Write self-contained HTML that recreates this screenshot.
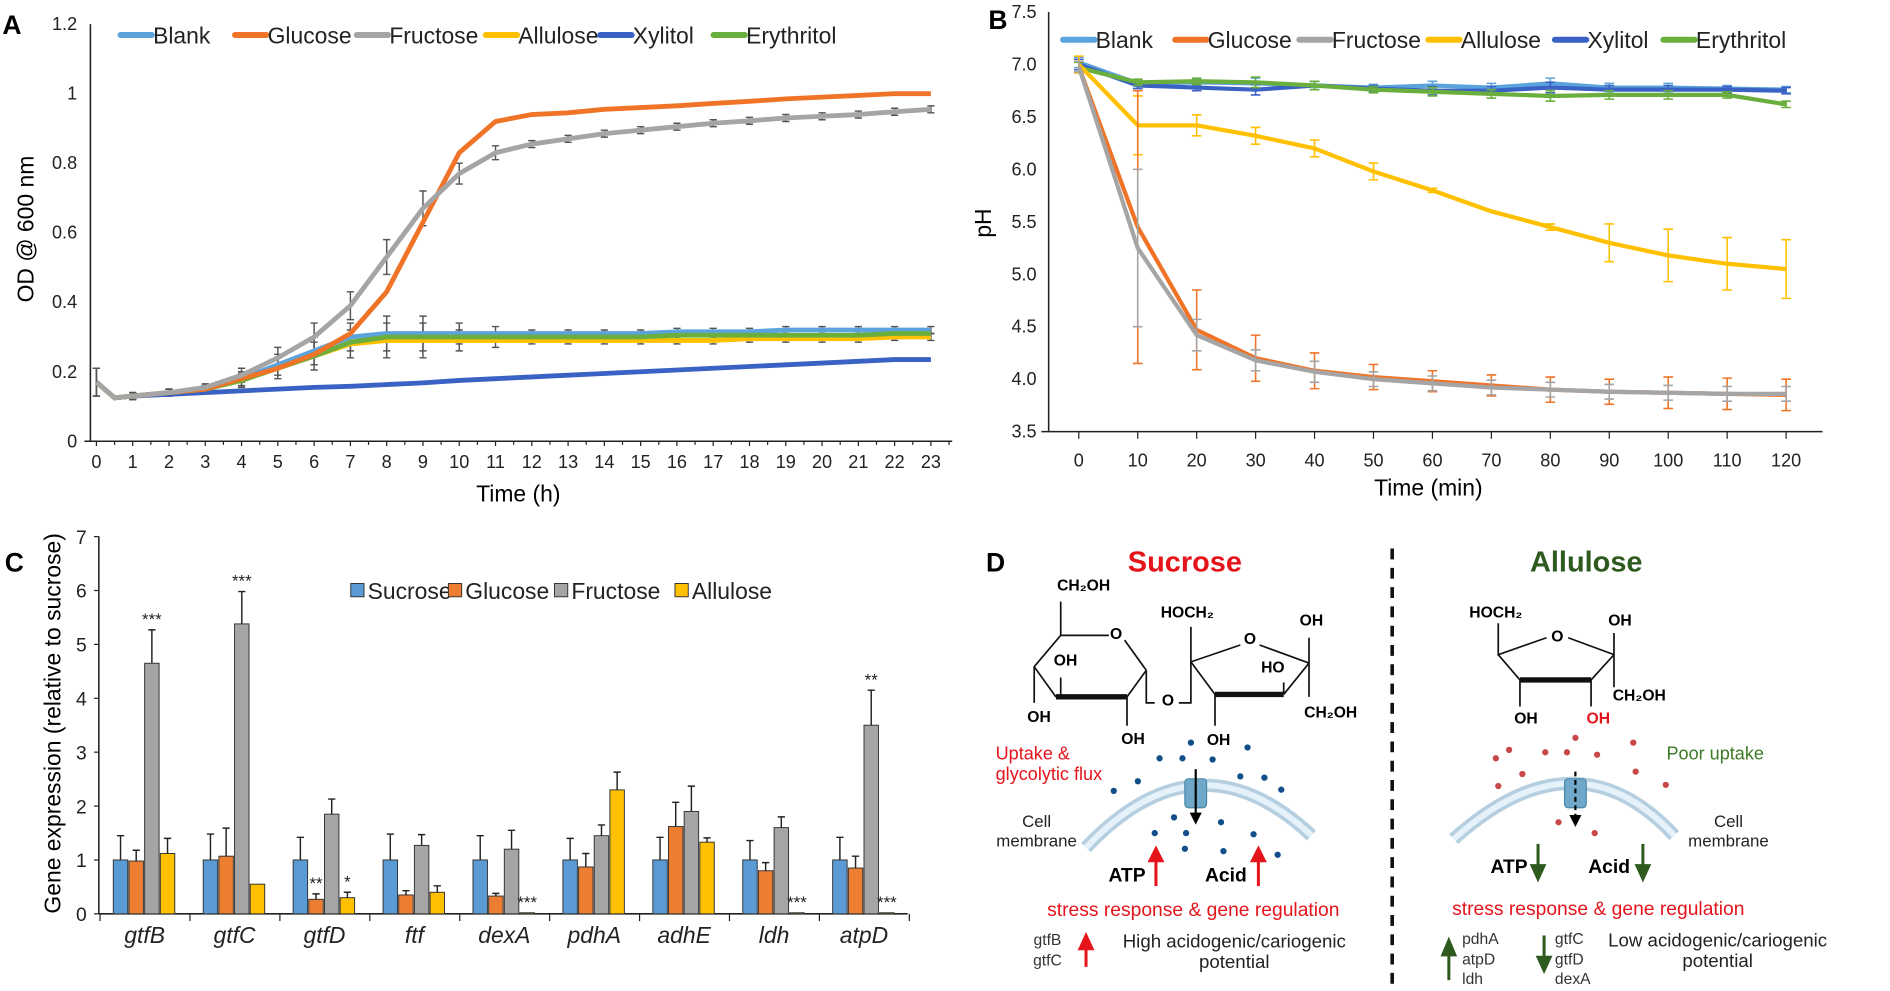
<!DOCTYPE html>
<html><head><meta charset="utf-8">
<style>
html,body{margin:0;padding:0;background:#fff;}
svg{display:block;font-family:"Liberation Sans",Arial,sans-serif;}
</style></head>
<body>
<svg id="fig" width="1890" height="991" viewBox="0 0 1568 822" preserveAspectRatio="none" xmlns="http://www.w3.org/2000/svg">
<g id="pa"></g>
<g id="pb"></g>
<g id="pc"></g>
<g id="pd">
  <text x="818" y="474" font-size="22" font-weight="bold">D</text>
  <line x1="1155" y1="455" x2="1155" y2="822" stroke="#111" stroke-width="3" stroke-dasharray="9,7"/>
  <text x="983" y="474" font-size="24" font-weight="bold" fill="#e5141b" text-anchor="middle">Sucrose</text>
  <text x="1316" y="474" font-size="24" font-weight="bold" fill="#2e5a1e" text-anchor="middle">Allulose</text>

  <g font-size="13" font-weight="bold" text-anchor="middle">
    <g fill="none" stroke="#111" stroke-width="1.4">
      <path d="M880 499 L880 527 L920 527 M933 531 L951 556 M880 527 L858 553 L876 578 M935 578 L951 556"/>
      <path d="M876 578 L935 578" stroke-width="4.5"/>
      <path d="M858 553 L858 583 M880 562 L880 578 M935 578 L935 602 M951 556 L951 583 L958 583 M978 583 L988 583 L988 549"/>
      <path d="M988 520 L988 549 L1029 535 M1045 535 L1086 550 M988 549 L1008 576 M1065 576 L1086 550 M1086 529 L1086 578 M1008 576 L1008 602 M1065 566 L1065 576"/>
      <path d="M1008 576 L1065 576" stroke-width="4.5"/>
    </g>
    <text x="899" y="490">CH₂OH</text><text x="926" y="530">O</text>
    <text x="884" y="552">OH</text><text x="862" y="599">OH</text><text x="940" y="617">OH</text>
    <text x="969" y="585">O</text>
    <text x="985" y="512">HOCH₂</text><text x="1037" y="534">O</text><text x="1056" y="558">HO</text>
    <text x="1088" y="519">OH</text><text x="1104" y="595">CH₂OH</text><text x="1011" y="618">OH</text>
  </g>
  <g font-size="13" font-weight="bold" text-anchor="middle">
    <g fill="none" stroke="#111" stroke-width="1.4">
      <path d="M1243 517 L1243 543 L1283 529 M1301 529 L1339 543 M1243 543 L1261 564 M1320 564 L1339 543 M1339 525 L1339 570 M1261 564 L1261 586 M1320 564 L1320 586"/>
      <path d="M1261 564 L1320 564" stroke-width="4.5"/>
    </g>
    <text x="1241" y="512">HOCH₂</text><text x="1292" y="532">O</text><text x="1344" y="519">OH</text>
    <text x="1360" y="581">CH₂OH</text><text x="1266" y="600">OH</text><text x="1326" y="600" fill="#e5141b">OH</text>
  </g>

  <text x="826" y="630" font-size="15" fill="#e5141b">Uptake &amp;</text>
  <text x="826" y="647" font-size="15" fill="#e5141b">glycolytic flux</text>
  <path d="M901 703 Q994 605 1088 693" fill="none" stroke="#b5cfe0" stroke-width="11"/>
  <path d="M901 703 Q994 605 1088 693" fill="none" stroke="#e6f2fa" stroke-width="5"/>
  <rect x="983" y="646" width="18" height="24" rx="3" fill="#6fa8c8" stroke="#4b87a8"/>
  <line x1="992" y1="638" x2="992" y2="676" stroke="#000" stroke-width="1.8"/><path d="M987 674 L997 674 L992 684Z" fill="#000"/>
  <g fill="#124f8a">
    <circle cx="988" cy="616" r="2.6"/><circle cx="962" cy="629" r="2.6"/><circle cx="981" cy="629" r="2.6"/><circle cx="1006" cy="630" r="2.6"/><circle cx="1035" cy="620" r="2.6"/><circle cx="944" cy="648" r="2.6"/><circle cx="924" cy="656" r="2.6"/><circle cx="1029" cy="644" r="2.6"/><circle cx="1049" cy="645" r="2.6"/><circle cx="1063" cy="655" r="2.6"/><circle cx="974" cy="678" r="2.6"/><circle cx="1013" cy="682" r="2.6"/><circle cx="958" cy="691" r="2.6"/><circle cx="984" cy="691" r="2.6"/><circle cx="1040" cy="692" r="2.6"/><circle cx="983" cy="704" r="2.6"/><circle cx="1015" cy="706" r="2.6"/><circle cx="1060" cy="709" r="2.6"/>
  </g>
  <text x="860" y="686" font-size="14" fill="#222" text-anchor="middle">Cell</text>
  <text x="860" y="702" font-size="14" fill="#222" text-anchor="middle">membrane</text>
  <text x="935" y="731" font-size="16" font-weight="bold" text-anchor="middle">ATP</text>
  <path d="M959 735 L959 712 M954 714 L959 704 L964 714Z" stroke="#e5141b" stroke-width="2.5" fill="#e5141b"/>
  <text x="1017" y="731" font-size="16" font-weight="bold" text-anchor="middle">Acid</text>
  <path d="M1044 735 L1044 712 M1039 714 L1044 704 L1049 714Z" stroke="#e5141b" stroke-width="2.5" fill="#e5141b"/>
  <text x="990" y="760" font-size="16" fill="#e5141b" text-anchor="middle">stress response &amp; gene regulation</text>
  <text x="869" y="784" font-size="13" fill="#333" text-anchor="middle">gtfB</text>
  <text x="869" y="801" font-size="13" fill="#333" text-anchor="middle">gtfC</text>
  <path d="M901 802 L901 786 M896 787 L901 776 L906 787Z" stroke="#e5141b" stroke-width="2.5" fill="#e5141b"/>
  <text x="1024" y="786" font-size="15.5" fill="#222" text-anchor="middle">High acidogenic/cariogenic</text>
  <text x="1024" y="803" font-size="15.5" fill="#222" text-anchor="middle">potential</text>

  <text x="1423" y="630" font-size="15" fill="#3d7a25" text-anchor="middle">Poor uptake</text>
  <path d="M1206 696 Q1307 605 1389 693" fill="none" stroke="#b5cfe0" stroke-width="11"/>
  <path d="M1206 696 Q1307 605 1389 693" fill="none" stroke="#e6f2fa" stroke-width="5"/>
  <rect x="1298" y="646" width="18" height="24" rx="3" fill="#6fa8c8" stroke="#4b87a8"/>
  <line x1="1307" y1="640" x2="1307" y2="676" stroke="#000" stroke-width="1.8" stroke-dasharray="4,3"/><path d="M1302 676 L1312 676 L1307 686Z" fill="#000"/>
  <g fill="#c8484a">
    <circle cx="1241" cy="629" r="2.6"/><circle cx="1252" cy="622" r="2.6"/><circle cx="1282" cy="624" r="2.6"/><circle cx="1300" cy="624" r="2.6"/><circle cx="1307" cy="612" r="2.6"/><circle cx="1325" cy="626" r="2.6"/><circle cx="1355" cy="616" r="2.6"/><circle cx="1263" cy="642" r="2.6"/><circle cx="1243" cy="652" r="2.6"/><circle cx="1357" cy="640" r="2.6"/><circle cx="1382" cy="651" r="2.6"/><circle cx="1293" cy="682" r="2.6"/><circle cx="1323" cy="691" r="2.6"/>
  </g>
  <text x="1434" y="686" font-size="14" fill="#222" text-anchor="middle">Cell</text>
  <text x="1434" y="702" font-size="14" fill="#222" text-anchor="middle">membrane</text>
  <text x="1252" y="724" font-size="16" font-weight="bold" text-anchor="middle">ATP</text>
  <path d="M1276 700 L1276 720 M1271 718 L1276 729 L1281 718Z" stroke="#2e5a1e" stroke-width="2.5" fill="#2e5a1e"/>
  <text x="1335" y="724" font-size="16" font-weight="bold" text-anchor="middle">Acid</text>
  <path d="M1363 700 L1363 720 M1358 718 L1363 729 L1368 718Z" stroke="#2e5a1e" stroke-width="2.5" fill="#2e5a1e"/>
  <text x="1326" y="759" font-size="16" fill="#e5141b" text-anchor="middle">stress response &amp; gene regulation</text>
  <path d="M1202 813 L1202 791 M1197 792 L1202 780 L1207 792Z" stroke="#2e5a1e" stroke-width="2.5" fill="#2e5a1e"/>
  <text x="1213" y="783" font-size="13" fill="#333">pdhA</text>
  <text x="1213" y="800" font-size="13" fill="#333">atpD</text>
  <text x="1213" y="816" font-size="13" fill="#333">ldh</text>
  <path d="M1281 776 L1281 795 M1276 794 L1281 805 L1286 794Z" stroke="#2e5a1e" stroke-width="2.5" fill="#2e5a1e"/>
  <text x="1290" y="783" font-size="13" fill="#333">gtfC</text>
  <text x="1290" y="800" font-size="13" fill="#333">gtfD</text>
  <text x="1290" y="816" font-size="13" fill="#333">dexA</text>
  <text x="1425" y="785" font-size="15.5" fill="#222" text-anchor="middle">Low acidogenic/cariogenic</text>
  <text x="1425" y="802" font-size="15.5" fill="#222" text-anchor="middle">potential</text>
</g>
</svg>
<script>
const NS="http://www.w3.org/2000/svg";
function mk(p,t,a){const e=document.createElementNS(NS,t);for(const k in a)e.setAttribute(k,a[k]);p.appendChild(e);return e;}
function tx(p,x,y,s,a){const e=mk(p,'text',Object.assign({x:x,y:y},a||{}));e.textContent=s;return e;}

// ---------- Panel A data ----------
const aTimes=[0,0.5,1,2,3,4,5,6,7,8,9,10,11,12,13,14,15,16,17,18,19,20,21,22,23];
const aBlank=[0.17,0.125,0.13,0.14,0.15,0.18,0.22,0.26,0.3,0.31,0.31,0.31,0.31,0.31,0.31,0.31,0.31,0.315,0.315,0.315,0.32,0.32,0.32,0.32,0.32];
const aGlucose=[0.17,0.125,0.13,0.14,0.15,0.18,0.21,0.25,0.31,0.43,0.63,0.83,0.92,0.94,0.945,0.955,0.96,0.965,0.972,0.978,0.985,0.99,0.995,1.0,1.0];
const aFructose=[0.17,0.125,0.13,0.14,0.155,0.19,0.24,0.3,0.39,0.53,0.67,0.77,0.83,0.855,0.87,0.885,0.895,0.905,0.915,0.922,0.93,0.935,0.94,0.948,0.955];
const aAllulose=[0.17,0.125,0.13,0.14,0.15,0.175,0.21,0.245,0.28,0.29,0.29,0.29,0.29,0.29,0.29,0.29,0.29,0.29,0.29,0.295,0.295,0.295,0.295,0.3,0.3];
const aXylitol=[0.17,0.125,0.13,0.135,0.14,0.145,0.15,0.155,0.158,0.163,0.168,0.175,0.18,0.185,0.19,0.195,0.2,0.205,0.21,0.215,0.22,0.225,0.23,0.235,0.235];
const aErythritol=[0.17,0.125,0.13,0.14,0.15,0.175,0.21,0.245,0.285,0.3,0.3,0.3,0.3,0.3,0.3,0.3,0.3,0.305,0.305,0.305,0.305,0.305,0.305,0.31,0.31];
const aErr=[0.04,0.01,0.01,0.01,0.01,0.02,0.03,0.04,0.04,0.05,0.05,0.03,0.02,0.01,0.01,0.01,0.01,0.01,0.01,0.01,0.01,0.01,0.01,0.01,0.01];
const aYTicks=["0","0.2","0.4","0.6","0.8","1","1.2"];
const aLegend=["Blank","Glucose","Fructose","Allulose","Xylitol","Erythritol"];
const colors=["#5ba3dc","#ef7428","#a5a5a5","#ffc000","#3a62c4","#6aaf3d"];

// ---------- Panel B data ----------
const bTimes=[0,10,20,30,40,50,60,70,80,90,100,110,120];
const bBlank=[7.02,6.82,6.83,6.82,6.8,6.78,6.8,6.78,6.82,6.78,6.78,6.77,6.76];
const bGlucose=[6.98,5.45,4.47,4.2,4.08,4.02,3.98,3.94,3.9,3.88,3.87,3.86,3.85];
const bFructose=[6.98,5.25,4.42,4.18,4.07,4.0,3.96,3.92,3.9,3.88,3.87,3.86,3.86];
const bAllulose=[7.0,6.42,6.42,6.32,6.2,5.98,5.8,5.6,5.45,5.3,5.18,5.1,5.05];
const bXylitol=[7.0,6.8,6.78,6.76,6.8,6.77,6.75,6.75,6.78,6.76,6.76,6.76,6.75];
const bErythritol=[6.97,6.83,6.84,6.83,6.8,6.76,6.74,6.72,6.7,6.71,6.71,6.71,6.62];
const bErrGlucose=[0.05,1.3,0.38,0.22,0.17,0.12,0.1,0.1,0.12,0.12,0.15,0.15,0.15];
const bErrFructose=[0.05,0.75,0.15,0.1,0.1,0.07,0.07,0.07,0.07,0.07,0.07,0.07,0.07];
const bErrAllulose=[0.08,0.28,0.1,0.08,0.08,0.08,0.02,0.0,0.03,0.18,0.25,0.25,0.28];
const bErrOther=[0.05,0.03,0.03,0.05,0.04,0.03,0.04,0.04,0.05,0.04,0.04,0.03,0.03];
const bYTicks=["3.5","4.0","4.5","5.0","5.5","6.0","6.5","7.0","7.5"];

// ---------- Panel C data ----------
const genes=["gtfB","gtfC","gtfD","ftf","dexA","pdhA","adhE","ldh","atpD"];
const cSucrose=[1,1,1,1,1,1,1,1,1];
const cGlucose=[0.98,1.07,0.27,0.35,0.33,0.87,1.62,0.8,0.85];
const cFructose=[4.65,5.38,1.85,1.27,1.2,1.45,1.9,1.6,3.5];
const cAllulose=[1.12,0.55,0.3,0.4,0.02,2.3,1.33,0.02,0.02];
const eSucrose=[0.45,0.48,0.42,0.48,0.45,0.4,0.42,0.36,0.42];
const eGlucose=[0.2,0.52,0.1,0.08,0.05,0.25,0.45,0.15,0.22];
const eFructose=[0.62,0.6,0.28,0.2,0.35,0.2,0.47,0.2,0.65];
const eAllulose=[0.28,0,0.1,0.12,0,0.33,0.08,0,0];
const cStarsFructose=["***","***","","","","","","","**"];
const cStarsGlucose=["","","**","","","","","",""];
const cStarsAllulose=["","","*","","***","","","***","***"];
const cLegend=["Sucrose","Glucose","Fructose","Allulose"];
const cColors=["#5b9bd5","#ed7d31","#a5a5a5","#ffc000"];

// ===== Panel A =====
(function(){
 const g=document.getElementById('pa');
 const X=t=>80+t*30.1, Y=v=>366-v*288.3;
 tx(g,2,28,"A",{'font-size':22,'font-weight':'bold'});
 mk(g,'line',{x1:75,y1:20,x2:75,y2:366,stroke:'#222','stroke-width':1.3});
 mk(g,'line',{x1:70,y1:366,x2:790,y2:366,stroke:'#222','stroke-width':1.3});
 aYTicks.forEach((s,i)=>{const e=tx(g,64,Y(+s)+5,s,{'font-size':15,'text-anchor':'end',fill:'#222'});
  });
 for(let t=0;t<=23;t++){mk(g,'line',{x1:X(t),y1:366,x2:X(t),y2:370,stroke:'#222'});mk(g,'line',{x1:X(t+0.5),y1:366,x2:X(t+0.5),y2:369,stroke:'#222'});
  const e=tx(g,X(t),388,String(t),{'font-size':15,'text-anchor':'middle',fill:'#222'});
  }
 const xt=tx(g,430,416,"Time (h)",{'font-size':19,'text-anchor':'middle'});
 
 const yt=tx(g,28,190,"OD @ 600 nm",{'font-size':19,'text-anchor':'middle',transform:'rotate(-90 28 190)'});
 
 const series=[aBlank,aGlucose,aFructose,aAllulose,aXylitol,aErythritol];
 [aFructose,aBlank,aAllulose].forEach(s=>{aTimes.forEach((t,i)=>{if(t<1&&t>0)return;const x=X(t),y1=Y(s[i]+aErr[i]),y2=Y(s[i]-aErr[i]);
   mk(g,'path',{d:`M${x} ${y1}V${y2}M${x-3} ${y1}H${x+3}M${x-3} ${y2}H${x+3}`,stroke:'#555','stroke-width':1.2,fill:'none'});});});
 const order=[4,3,0,5,1,2];
 order.forEach(k=>{const s=series[k];const p=mk(g,'polyline',{points:aTimes.map((t,i)=>X(t)+','+Y(s[i])).join(' '),fill:'none',stroke:colors[k],'stroke-width':4,'stroke-linejoin':'round'});
  });
 const lx=[100,195,296,403,498,592];
 aLegend.forEach((n,i)=>{const gg=mk(g,'g',{});
  mk(gg,'line',{x1:lx[i],y1:29,x2:lx[i]+26,y2:29,stroke:colors[i],'stroke-width':5,'stroke-linecap':'round'});
  tx(gg,lx[i]+27,36,n,{'font-size':19,fill:'#222'});});
})();

// ===== Panel B =====
(function(){
 const g=document.getElementById('pb');
 const X=t=>895+t*4.89, Y=v=>358-(v-3.5)*87;
 tx(g,820,24,"B",{'font-size':22,'font-weight':'bold'});
 mk(g,'line',{x1:870,y1:10,x2:870,y2:358,stroke:'#222','stroke-width':1.3});
 mk(g,'line',{x1:864,y1:358,x2:1512,y2:358,stroke:'#222','stroke-width':1.3});
 bYTicks.forEach(s=>{const e=tx(g,860,Y(+s)+5,s,{'font-size':15,'text-anchor':'end',fill:'#222'});
  });
 bTimes.forEach(t=>{mk(g,'line',{x1:X(t),y1:358,x2:X(t),y2:364,stroke:'#222'});
  const e=tx(g,X(t),387,String(t),{'font-size':15,'text-anchor':'middle',fill:'#222'});
  });
 const xt=tx(g,1185,411,"Time (min)",{'font-size':19,'text-anchor':'middle'});
 
 const yt=tx(g,822,185,"pH",{'font-size':19,'text-anchor':'middle',transform:'rotate(-90 822 185)'});
 
 const series=[bBlank,bGlucose,bFructose,bAllulose,bXylitol,bErythritol];
 const errs=[bErrOther,bErrGlucose,bErrFructose,bErrAllulose,bErrOther,bErrOther];
 [0,4,5,3,1,2].forEach(k=>{const s=series[k];
  bTimes.forEach((t,i)=>{const x=X(t),y1=Y(s[i]+errs[k][i]),y2=Y(s[i]-errs[k][i]);
   mk(g,'path',{d:`M${x} ${y1}V${y2}M${x-4} ${y1}H${x+4}M${x-4} ${y2}H${x+4}`,stroke:colors[k],'stroke-width':1.3,fill:'none'});});
  const p=mk(g,'polyline',{points:bTimes.map((t,i)=>X(t)+','+Y(s[i])).join(' '),fill:'none',stroke:colors[k],'stroke-width':3.5,'stroke-linejoin':'round'});
  });
 const lx=[882,975,1078,1185,1290,1380];
 aLegend.forEach((n,i)=>{const gg=mk(g,'g',{});
  mk(gg,'line',{x1:lx[i],y1:33,x2:lx[i]+26,y2:33,stroke:colors[i],'stroke-width':5,'stroke-linecap':'round'});
  tx(gg,lx[i]+27,40,n,{'font-size':19,fill:'#222'});});
})();

// ===== Panel C =====
(function(){
 const g=document.getElementById('pc');
 const Y=v=>758-v*44.7, G=i=>94+i*74.6;
 tx(g,4,474,"C",{'font-size':22,'font-weight':'bold'});
 mk(g,'line',{x1:82,y1:445,x2:82,y2:758,stroke:'#222','stroke-width':1.3});
 mk(g,'line',{x1:82,y1:758,x2:753,y2:758,stroke:'#222','stroke-width':1.3});
 for(let i=0;i<=genes.length;i++){mk(g,'line',{x1:G(i)-11,y1:758,x2:G(i)-11,y2:764,stroke:'#222'});}
 for(let v=0;v<=7;v++){mk(g,'line',{x1:78,y1:Y(v),x2:82,y2:Y(v),stroke:'#222'});
  const e=tx(g,72,Y(v)+6,String(v),{'font-size':16,'text-anchor':'end',fill:'#222'});
  }
 const yt=tx(g,50,600,"Gene expression (relative to sucrose)",{'font-size':19,'text-anchor':'middle',transform:'rotate(-90 50 600)'});
 
 const vals=[cSucrose,cGlucose,cFructose,cAllulose], errs=[eSucrose,eGlucose,eFructose,eAllulose];
 const stars=[null,cStarsGlucose,cStarsFructose,cStarsAllulose];
 genes.forEach((gn,i)=>{
  vals.forEach((s,k)=>{const x=G(i)+k*13, v=s[i];
   const r=mk(g,'rect',{x:x,y:Y(v),width:12,height:758-Y(v),fill:cColors[k],stroke:'#333','stroke-width':0.8});
   
   const e=errs[k][i];if(e>0){const cx=x+6;mk(g,'path',{d:`M${cx} ${Y(v)}V${Y(v+e)}M${cx-3} ${Y(v+e)}H${cx+3}`,stroke:'#222','stroke-width':1.2,fill:'none'});}
   if(stars[k]&&stars[k][i]){const st=tx(g,x+6,Y(v+e)-4,stars[k][i],{'font-size':14,'text-anchor':'middle',fill:'#222'});
    }
  });
  const l=tx(g,G(i)+26,782,gn,{'font-size':19,'font-style':'italic','text-anchor':'middle',fill:'#222'});
  
 });
 const lx=[291,372,460,560];
 cLegend.forEach((n,i)=>{const gg=mk(g,'g',{});
  mk(gg,'rect',{x:lx[i],y:484,width:11,height:11,fill:cColors[i],stroke:'#333','stroke-width':0.8});
  tx(gg,lx[i]+14,497,n,{'font-size':19,fill:'#222'});});
})();
</script>
</body></html>
